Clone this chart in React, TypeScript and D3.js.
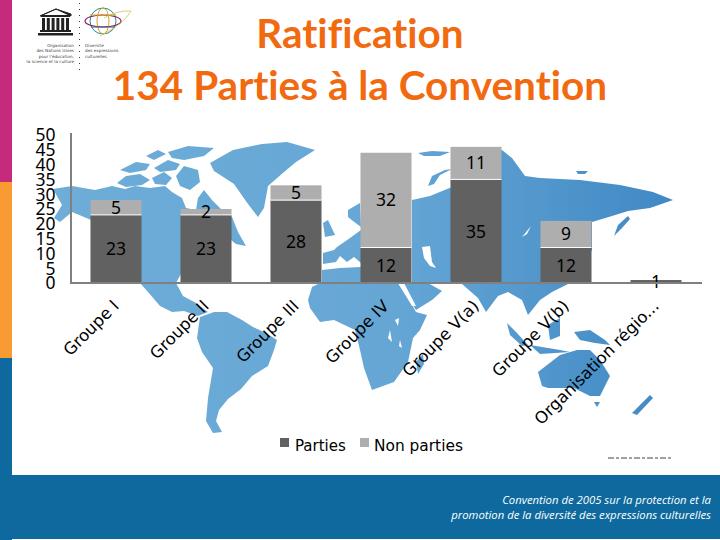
import React from "react";
import * as d3 from "d3";

const categories = ["Groupe I", "Groupe II", "Groupe III", "Groupe IV", "Groupe V(a)", "Groupe V(b)", "Organisation régio..."];
const parties = [23, 23, 28, 12, 35, 12, 1];
const nonParties = [5, 2, 5, 32, 11, 9, 0];
const yTicks = [0, 5, 10, 15, 20, 25, 30, 35, 40, 45, 50];
const legendLabels = ["Parties", "Non parties"];
const titleLines = ["Ratification", "134 Parties à la Convention"];
const footerLines = ["Convention de 2005 sur la protection et la", "promotion de la diversité des expressions culturelles"];
const unescoLines = ["Organisation", "des Nations Unies", "pour l'éducation,", "la science et la culture"];
const diversityLines = ["Diversité", "des expressions", "culturelles"];

type P = [number, number];
// Decorative world-map backdrop, in page pixels.
const land: P[][] = [
  // North America
  [[53,189],[72,186],[95,190],[112,186],[125,189],[135,186],[150,188],[165,186],[172,192],[182,198],[186,208],[196,210],[198,198],[204,190],[212,200],[222,210],[232,217],[238,232],[246,246],[236,244],[226,236],[214,240],[205,248],[192,258],[182,272],[176,283],[183,296],[196,303],[208,312],[198,316],[184,311],[172,312],[160,306],[148,292],[140,283],[128,270],[122,250],[112,236],[96,222],[72,212],[60,222],[54,218],[62,205]],
  // Arctic islands
  [[117,183],[126,176],[140,174],[150,180],[142,185],[126,187]],
  [[152,178],[164,172],[172,178],[166,185],[155,184]],
  [[120,170],[136,162],[150,164],[146,170],[130,173]],
  [[154,168],[168,160],[180,164],[176,170],[160,172]],
  [[176,176],[184,166],[198,170],[200,182],[190,190],[180,186]],
  [[168,152],[188,146],[214,148],[204,156],[184,160],[172,158]],
  [[146,156],[158,150],[166,154],[154,160]],
  // Greenland
  [[210,163],[233,150],[262,144],[287,142],[315,150],[296,162],[284,172],[268,186],[264,208],[258,217],[248,204],[234,184],[214,171]],
  // South America
  [[200,317],[214,312],[227,312],[242,320],[253,327],[266,333],[277,340],[274,350],[268,366],[252,376],[241,389],[228,399],[219,410],[216,421],[222,432],[213,433],[206,421],[208,398],[213,368],[202,352],[197,338]],
  // Europe
  [[348,210],[360,203],[361,227],[353,221],[348,217]],
  [[323,223],[328,220],[335,235],[325,237]],
  [[337,247],[350,238],[361,230],[361,263],[354,257],[347,262],[340,256],[336,262],[323,264],[323,253],[334,250]],
  // Africa
  [[308,300],[312,287],[320,283],[398,283],[408,298],[416,312],[427,315],[420,330],[413,338],[408,362],[394,382],[372,390],[364,368],[360,350],[355,330],[334,320],[320,322],[310,308]],
  [[322,283],[322,270],[340,268],[361,267],[361,283]],
  // Arabia
  [[400,283],[428,283],[442,291],[432,300],[416,310],[408,298]],
  // Madagascar
  [[416,362],[423,354],[424,364],[418,374]],
  // Asia
  [[412,200],[430,196],[452,187],[452,150],[502,150],[512,158],[525,176],[540,178],[580,180],[620,185],[653,192],[673,200],[650,208],[628,211],[612,216],[592,222],[592,250],[580,270],[570,283],[552,292],[540,300],[528,315],[522,300],[508,292],[498,296],[486,312],[478,298],[462,284],[412,283]],
  [[428,186],[432,176],[445,170],[452,169],[440,175],[434,184]],
  [[418,153],[432,151],[450,152],[440,156],[424,156]],
  // Sakhalin & Kamchatka side
  [[614,236],[618,225],[628,216],[630,219],[622,228]],
  [[576,171],[588,171],[585,174],[578,174]],
  // Indonesia & New Guinea
  [[507,323],[516,332],[528,345],[522,346],[510,335]],
  [[530,345],[560,350],[570,352],[540,354]],
  [[548,325],[560,318],[560,336],[550,340]],
  [[574,332],[590,330],[605,340],[610,345],[595,343],[580,340]],
  // Australia
  [[538,372],[560,355],[577,350],[590,350],[600,360],[610,376],[600,396],[590,396],[574,388],[548,388],[542,386]],
  [[594,402],[600,402],[597,407]],
  // New Zealand
  [[632,413],[650,395],[653,398],[637,415]],
];
const lakes: P[][] = [
  [[422,247],[430,246],[432,262],[436,268],[430,266],[424,258]],
  [[522,237],[527,231],[531,226],[527,234]],
  [[395,320],[399,318],[398,326]],
  [[390,330],[392,342],[388,338]],
  [[400,340],[402,348],[399,346]],
  [[398,283],[404,283],[416,306],[412,306]],
];

const axisLeft = 71, axisRight = 702, baseY = 283, topY = 135;

export default function App() {
  const x = d3.scaleBand<string>().domain(categories).range([axisLeft, axisLeft + 90 * categories.length]).paddingInner(0.433).paddingOuter(0.2165);
  const y = d3.scaleLinear().domain([0, 50]).range([baseY, topY]);
  const lineGen = d3.line<P>().curve(d3.curveLinearClosed);
  const sans = "'DejaVu Sans', sans-serif";
  const numFont = "'Noto Sans', sans-serif";
  const numSize = 17.5;
  return (
    <svg width={720} height={540} style={{ position: "absolute", left: 0, top: 0, background: "#fff" }} fontFamily={sans}>
      <defs>
        <linearGradient id="sea" gradientUnits="userSpaceOnUse" x1={50} x2={680} y1={0} y2={0}>
          <stop offset="0" stopColor="#6fadd8" />
          <stop offset="0.55" stopColor="#65a6d5" />
          <stop offset="1" stopColor="#3f88c4" />
        </linearGradient>
        <filter id="soft"><feGaussianBlur stdDeviation="0.6" /></filter>
      </defs>

      {/* side strip and footer */}
      <rect x={0} y={0} width={12} height={182} fill="#c52a7d" />
      <rect x={0} y={182} width={12} height={176} fill="#f99b33" />
      <rect x={0} y={358} width={12} height={182} fill="#0e6a9e" />
      <rect x={12} y={475} width={708} height={64} fill="#0e6a9e" />

      {/* map */}
      <g filter="url(#soft)">
        {land.map((p, i) => <path key={i} d={lineGen(p) ?? ""} fill="url(#sea)" />)}
        {lakes.map((p, i) => <path key={i} d={lineGen(p) ?? ""} fill="#fff" />)}
      </g>

      {/* UNESCO logo */}
      <g fill="#222">
        <path d={lineGen([[40, 16], [56, 9], [71, 16], [71, 14], [56, 9]]) ?? ""} stroke="#222" strokeWidth={1} />
        <rect x={41} y={15} width={29} height={2} />
        {d3.range(6).map(i => <rect key={i} x={42 + i * 4.8} y={18} width={3} height={12} />)}
        <rect x={40} y={30} width={31} height={2} />
        <rect x={38} y={33} width={35} height={2.5} />
      </g>
      <line x1={79.5} x2={79.5} y1={3} y2={70} stroke="#333" strokeDasharray="1 5" />
      <g fill="none">
        <circle cx={103} cy={21} r={13} stroke="#2a8a9a" strokeWidth={1} />
        <ellipse cx={103} cy={21} rx={18} ry={6} stroke="#8a1f5e" strokeWidth={1.2} />
        <ellipse cx={103} cy={21} rx={6} ry={13} stroke="#d9a02a" strokeWidth={1} />
        <path d="M100 36 Q124 24 131 11 Q118 10 104 18" stroke="#d8c050" strokeWidth={0.8} />
        <line x1={90} x2={116} y1={15} y2={15} stroke="#d9a02a" />
        <line x1={91} x2={115} y1={27} y2={27} stroke="#2a5a8a" />
      </g>
      {unescoLines.map((t, i) => <text key={t} x={74} y={47 + i * 5.4} textAnchor="end" fontSize={4.2} fill="#444">{t}</text>)}
      {diversityLines.map((t, i) => <text key={t} x={85} y={47 + i * 5.4} fontSize={4.2} fill="#444">{t}</text>)}

      {/* title */}
      {titleLines.map((t, i) => (
        <text key={t} x={360} y={48 + i * 52} textAnchor="middle" fontFamily="Lato, sans-serif" fontWeight={700} fontSize={40.5} fill="#f26a10" style={{ fontVariantLigatures: "none" }}>{t}</text>
      ))}

      {/* y ticks */}
      {yTicks.map(t => (
        <text key={t} x={55.5} y={y(t)} dy="0.36em" textAnchor="end" fontFamily={numFont} fontSize={numSize} fill="#000">{t}</text>
      ))}

      {/* bars */}
      {categories.map((c, i) => {
        const bx = x(c) ?? 0, w = x.bandwidth();
        const yp = y(parties[i]), yn = y(parties[i] + nonParties[i]);
        return (
          <g key={c}>
            <rect x={bx} y={yp} width={w} height={baseY - yp} fill="#616161" />
            {nonParties[i] > 0 && (
              <>
                <rect x={bx} y={yn} width={w} height={yp - yn} fill="#aeaeae" />
                <line x1={bx} x2={bx + w} y1={yp} y2={yp} stroke="#fff" strokeWidth={1} />
              </>
            )}
            <text x={bx + w / 2} y={(yp + baseY) / 2} dy="0.36em" textAnchor="middle" fontFamily={numFont} fontSize={numSize} fill="#000">{parties[i]}</text>
            {nonParties[i] > 0 && (
              <text x={bx + w / 2} y={(yp + yn) / 2} dy="0.36em" textAnchor="middle" fontFamily={numFont} fontSize={numSize} fill="#000">{nonParties[i]}</text>
            )}
          </g>
        );
      })}

      {/* axes */}
      <line x1={axisLeft} x2={axisLeft} y1={133} y2={baseY + 1} stroke="#808080" strokeWidth={2} />
      <line x1={axisLeft - 1} x2={axisRight} y1={baseY} y2={baseY} stroke="#808080" strokeWidth={2} />

      {/* category labels */}
      {categories.map(c => {
        const cx = (x(c) ?? 0) + x.bandwidth() / 2 + 4;
        return (
          <text key={c} transform={`translate(${cx},${baseY + 24}) rotate(-45)`} textAnchor="end" fontSize={16.5} fill="#000">{c}</text>
        );
      })}

      {/* legend */}
      <rect x={280} y={438} width={9} height={9} fill="#616161" />
      <text x={295} y={450.5} fontSize={15} fill="#000">{legendLabels[0]}</text>
      <rect x={360} y={438} width={9} height={9} fill="#aeaeae" />
      <text x={374} y={450.5} fontSize={15.4} fill="#000">{legendLabels[1]}</text>

      {/* clipped remnant of a hidden note */}
      <line x1={608} x2={671} y1={458} y2={458} stroke="#444" strokeWidth={1} strokeDasharray="6 2 3 2" />

      {/* footer */}
      {footerLines.map((t, i) => (
        <text key={t} x={711} y={504 + i * 14.5} textAnchor="end" fontFamily="'Open Sans', sans-serif" fontStyle="italic" fontSize={11.3} fill="#fff">{t}</text>
      ))}
    </svg>
  );
}
